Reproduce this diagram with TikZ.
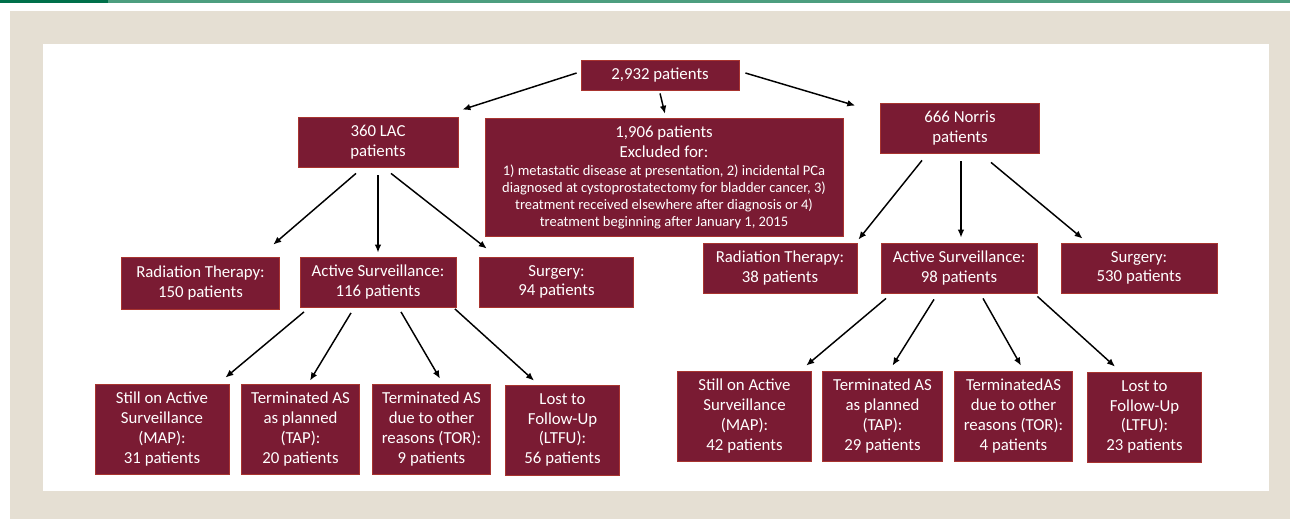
\documentclass[tikz,border=0pt]{standalone}
\usepackage{fontspec}
\setmainfont{Carlito}
\usetikzlibrary{calc,arrows.meta}
\definecolor{boxfill}{HTML}{7A1B33}
\definecolor{boxline}{HTML}{A8342F}
\definecolor{beige}{HTML}{E5DFD3}
\definecolor{gdark}{HTML}{00704A}
\definecolor{glight}{HTML}{4D9E7F}

\begin{document}
\begin{tikzpicture}[x=0.75pt,y=-0.75pt,
  box/.style={draw=boxline,line width=0.6pt,fill=boxfill,text=white,align=center,inner sep=0pt,
    font=\fontsize{12.6}{14.8}\selectfont},
  midbox/.style={box,minimum width=117pt,minimum height=37.5pt},
  lowbox/.style={box,minimum width=89pt,minimum height=67.5pt},
  arr/.style={-{Latex[length=6pt,width=5pt]},line width=1.1pt}]
\useasboundingbox (0,0) rectangle (1290,519);
\fill[gdark] (0,0) rectangle (108,3);
\fill[glight] (108,0) rectangle (1290,3);
\fill[beige] (10,11) rectangle (1290,519);
\fill[white] (43,44) rectangle (1269,491);

\node[box,minimum width=118.5pt,minimum height=22.5pt] (top) at (660,75) {2,932 patients};
\node[box,minimum width=268.5pt,minimum height=89pt] (excl) at (664,177.5)
  {1,906 patients\\Excluded for:\\[-1pt]
   \fontsize{10.9}{12.8}\selectfont 1) metastatic disease at presentation, 2) incidental PCa\\[-2pt]
   \fontsize{10.9}{12.8}\selectfont diagnosed at cystoprostatectomy for bladder cancer, 3)\\[-2pt]
   \fontsize{10.9}{12.8}\selectfont treatment received elsewhere after diagnosis or 4)\\[-2pt]
   \fontsize{10.9}{12.8}\selectfont treatment beginning after January 1, 2015};
\node[midbox,minimum width=120pt] (lac) at (378,142) {360 LAC\\patients};
\node[midbox,minimum width=119pt] (nor) at (960,128) {666 Norris\\patients};

\node[midbox,minimum width=119pt,minimum height=39pt] (lacrt) at (200.5,283) {Radiation Therapy:\\150 patients};
\node[midbox] (lacas) at (378,282) {Active Surveillance:\\116 patients};
\node[midbox,minimum width=116pt] (lacsu) at (556.5,282) {Surgery:\\94 patients};
\node[midbox,minimum width=115.5pt] (norrt) at (780,268) {Radiation Therapy:\\38 patients};
\node[midbox] (noras) at (959,268) {Active Surveillance:\\98 patients};
\node[midbox] (norsu) at (1139,268) {Surgery:\\530 patients};

\node[lowbox,minimum width=100.5pt] (lacmap) at (162,429) {Still on Active\\Surveillance\\(MAP):\\31 patients};
\node[lowbox] (lactap) at (300.5,429) {Terminated AS\\as planned\\(TAP):\\20 patients};
\node[lowbox] (lactor) at (431.5,429) {Terminated AS\\due to other\\reasons (TOR):\\9 patients};
\node[lowbox,minimum width=86pt] (lacltfu) at (562.5,430) {Lost to\\Follow-Up\\(LTFU):\\56 patients};
\node[lowbox,minimum width=101pt] (normap) at (744.5,416) {Still on Active\\Surveillance\\(MAP):\\42 patients};
\node[lowbox,minimum width=90pt] (nortap) at (882.5,416) {Terminated AS\\as planned\\(TAP):\\29 patients};
\node[lowbox] (nortor) at (1013.5,416) {TerminatedAS\\due to other\\reasons (TOR):\\4 patients};
\node[lowbox,minimum width=86pt] (norltfu) at (1144.5,417) {Lost to\\Follow-Up\\(LTFU):\\23 patients};

\draw[arr] ($(top.west)+(-4,-2)$) -- ($(lac.north east)+(4,-7)$);
\draw[arr] ($(top.south)+(0,3)$) -- ($(excl.north)+(1,-4)$);
\draw[arr] ($(top.east)+(6,-2)$) -- ($(nor.north west)+(-25,3)$);

\draw[arr] ($(lac.south)+(-22,6)$) -- ($(lacrt.north east)+(-7,-12)$);
\draw[arr] ($(lac.south)+(0,8)$) -- ($(lacas.north)+(0,-4)$);
\draw[arr] ($(lac.south)+(13,6)$) -- ($(lacsu.north west)+(8,-8)$);
\draw[arr] ($(nor.south)+(-38,7)$) -- ($(norrt.north east)+(1,-3)$);
\draw[arr] ($(nor.south)+(1,8)$) -- ($(noras.north)+(2,-5)$);
\draw[arr] ($(nor.south)+(31,9)$) -- ($(norsu.north west)+(22,-4)$);

\draw[arr] ($(lacas.south)+(-74,4.5)$) -- ($(lacmap.north east)+(-4,-6)$);
\draw[arr] ($(lacas.south)+(-27,5.5)$) -- ($(lactap.north)+(9.5,-3)$);
\draw[arr] ($(lacas.south)+(23,4.5)$) -- ($(lactor.north)+(8.5,-5)$);
\draw[arr] ($(lacas.south east)+(-1.5,1.5)$) -- ($(lacltfu.north)+(-28.5,-4)$);
\draw[arr] ($(noras.south)+(-73,5)$) -- ($(normap.north east)+(-6,-5)$);
\draw[arr] ($(noras.south)+(-25,6)$) -- ($(nortap.north)+(10,-5)$);
\draw[arr] ($(noras.south)+(24,5)$) -- ($(nortor.north)+(7.5,-5)$);
\draw[arr] ($(noras.south east)+(0,3)$) -- ($(norltfu.north)+(-29.5,-5)$);
\end{tikzpicture}
\end{document}
